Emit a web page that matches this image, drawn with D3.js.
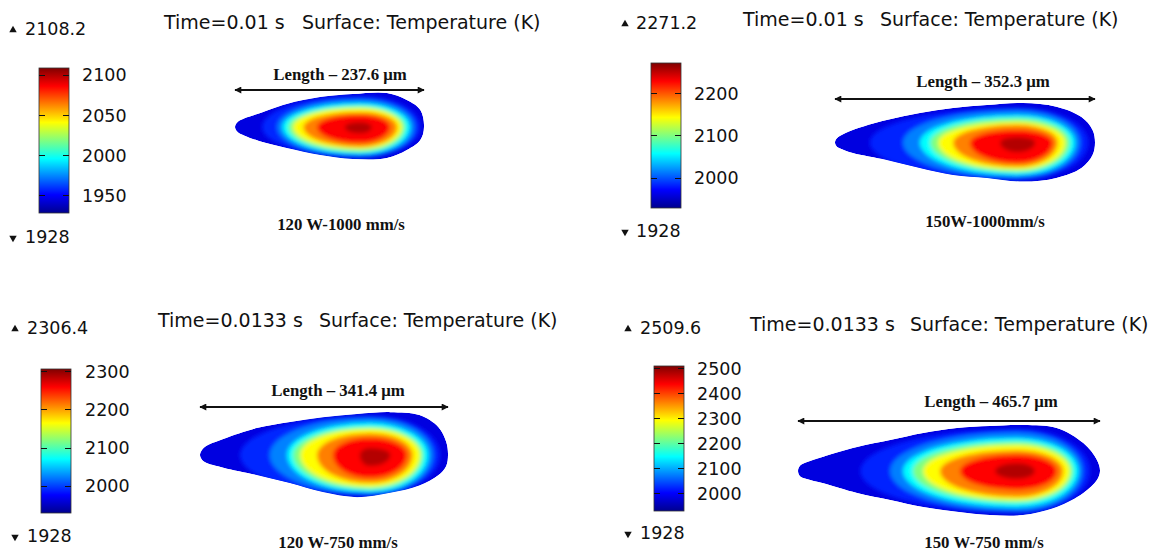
<!DOCTYPE html>
<html>
<head>
<meta charset="UTF-8">
<script src="https://cdn.jsdelivr.net/npm/d3@7"></script>
<style>
  body { margin: 0; background: #fff; }
  .lbl { font-family: 'DejaVu Sans', sans-serif; font-size: 17.5px; fill: #111; }
  .title { font-family: 'DejaVu Sans', sans-serif; font-size: 19px; fill: #111; }
  .serif { font-family: 'Liberation Serif', 'Times New Roman', serif; font-weight: bold; font-size: 16.8px; fill: #111; }
</style>
</head>
<body>
<svg id="chart" width="1154" height="552"></svg>
<script>
// ---- data ----
var tMin = 1928;
var tMax = [2108.2, 2271.2, 2306.4, 2509.6];
var times = ["0.01", "0.01", "0.0133", "0.0133"];
var lengths = [237.6, 352.3, 341.4, 465.7];           // melt pool length, µm
var captions = ["120 W-1000 mm/s", "150W-1000mm/s", "120 W-750 mm/s", "150 W-750 mm/s"];
var barTicks = [
  [1950, 2000, 2050, 2100],
  [2000, 2100, 2200],
  [2000, 2100, 2200, 2300],
  [2000, 2100, 2200, 2300, 2400, 2500]
];
var hotX = [157, 247, 234, 338];                        // x of the hottest point, µm from tail

// pool outline: [x from tail (µm), half width above axis, half width below axis]
var outline1 = [[3, 6, 6], [12, 11, 11], [30, 17, 17.5], [65, 29, 26.4], [107, 37.7, 35.2], [148, 41.5, 40.3],
  [191, 42.8, 39], [216, 34, 29], [233, 21.4, 16.4]];
var outline2 = [[2, 5, 5], [7, 9, 8], [24, 17, 14.2], [70, 30.5, 23.7], [115, 40, 34.5], [160, 46.7, 44],
  [206, 50.8, 48], [255, 53.5, 53], [300, 48.5, 48], [334, 34.5, 34.5], [349, 17, 17]];
var outline3 = [[2, 6, 5.5], [7, 11.5, 10], [32, 22, 17.5], [78, 37, 27.5], [124, 45.5, 38.6], [169, 52, 51],
  [216, 56.5, 58], [262, 59, 52], [302, 55, 42], [328, 38.6, 28], [339, 18, 15]];
var outline4 = [[3, 8, 8], [12, 13, 12], [39, 22, 19], [91, 37, 34], [142, 47.8, 44.7], [193, 58.6, 55.5],
  [245, 66.3, 63], [296, 69.4, 68], [347, 71, 68], [399, 66.3, 55.5], [440, 43, 34], [461, 17, 14]];

// isotherms: [T (K), rear x, front x, half width above, half width below] in µm
var iso1 = [[1957, 34, 233, 39, 38], [1973, 53, 226, 35, 38], [1996, 60, 220, 30, 34], [2018, 67, 214, 26, 31],
  [2041, 73, 210, 24, 28], [2063, 86, 204, 19, 25], [2086, 103, 195, 15, 20], [2099, 138, 172, 6, 8]];
var iso2 = [[1983, 47, 343, 47, 51], [2014, 92, 332, 44, 48], [2057, 115, 325, 37, 44], [2100, 129, 318, 33, 40],
  [2143, 140, 312, 28, 37], [2185, 160, 302, 24, 33], [2228, 183, 295, 17, 28], [2254, 224, 271, 7.5, 13]];
var iso3 = [[1989, 55, 330, 54, 56], [2023, 96, 321, 51, 54], [2070, 120, 314, 44, 51], [2117, 128, 307, 38.6, 47],
  [2165, 138, 303, 36, 44], [2212, 161, 293, 30, 38.6], [2259, 183, 285, 23.4, 31.7], [2287, 220, 262, 9.6, 15]];
var iso4 = [[2021, 96, 450, 65, 65], [2073, 142, 439, 60, 62], [2146, 162, 432, 51, 55.5], [2219, 177, 424, 45, 49],
  [2292, 193, 419, 40, 45], [2364, 219, 409, 32, 40], [2437, 250, 399, 25, 29], [2481, 304, 365, 12, 12]];

var outlines = [outline1, outline2, outline3, outline4];
var isotherms = [iso1, iso2, iso3, iso4];

// ---- layout (pixels) ----
var layout = [
  { x0: 235, x1: 424, ay: 127, cb: [39, 68, 30, 145], tickX: 82, triX: 13, valX: 25, maxY: 35, minY: 243,
    timeX: 164, surfX: 302, titleY: 29, lenX: 340, lenY: 80, arrowY: 90, capX: 341, capY: 230 },
  { x0: 835, x1: 1095, ay: 142.5, cb: [651, 63, 30, 145], tickX: 694, triX: 625, valX: 636, maxY: 29, minY: 237,
    timeX: 743, surfX: 880, titleY: 26, lenX: 983, lenY: 87, arrowY: 99, capX: 985, capY: 227 },
  { x0: 200, x1: 448, ay: 455, cb: [41, 369, 30, 144], tickX: 85, triX: 15, valX: 27, maxY: 334, minY: 542,
    timeX: 158, surfX: 319, titleY: 327, lenX: 338, lenY: 396, arrowY: 407, capX: 338, capY: 548 },
  { x0: 798, x1: 1100, ay: 471, cb: [654, 366, 30, 145], tickX: 697, triX: 628, valX: 640, maxY: 334, minY: 539,
    timeX: 750, surfX: 910, titleY: 331, lenX: 991, lenY: 407, arrowY: 421, capX: 984, capY: 548 }
];

var jetStops = [0, 0.125, 0.375, 0.625, 0.875, 1];
var jetColors = ["#00008f", "#0000ff", "#00ffff", "#ffff00", "#ff0000", "#800000"];
var jet = d3.scaleLinear().domain(jetStops).range(jetColors).clamp(true);

var svg = d3.select("#chart");
var defs = svg.append("defs");

// colour bar gradient
var grad = defs.append("linearGradient").attr("id", "jet")
  .attr("x1", 0).attr("y1", 1).attr("x2", 0).attr("y2", 0);
jetStops.forEach(function (s, i) {
  grad.append("stop").attr("offset", s).attr("stop-color", jetColors[i]);
});

defs.append("filter").attr("id", "soft")
  .attr("x", "-20%").attr("y", "-40%").attr("width", "140%").attr("height", "180%")
  .append("feGaussianBlur").attr("stdDeviation", 2.3);

defs.append("marker").attr("id", "head")
  .attr("viewBox", "0 0 10 10").attr("refX", 9).attr("refY", 5)
  .attr("markerWidth", 9).attr("markerHeight", 7).attr("markerUnits", "userSpaceOnUse")
  .attr("orient", "auto-start-reverse")
  .append("path").attr("d", "M0,0 L10,5 L0,10 z").attr("fill", "#111");

var tri = d3.symbol().type(d3.symbolTriangle).size(24);

layout.forEach(function (L, p) {
  var g = svg.append("g");
  var len = lengths[p];
  var k = (L.x1 - L.x0) / len;
  var x = d3.scaleLinear().domain([0, len]).range([L.x0, L.x1]);
  var y = d3.scaleLinear().domain([-100, 100]).range([L.ay - 100 * k, L.ay + 100 * k]);
  var norm = d3.scaleLinear().domain([tMin, tMax[p]]).range([0, 1]);

  // ---- colour bar ----
  var cb = L.cb;
  var cy = d3.scaleLinear().domain([tMin, tMax[p]]).range([cb[1] + cb[3], cb[1]]);
  g.append("rect").attr("x", cb[0]).attr("y", cb[1]).attr("width", cb[2]).attr("height", cb[3])
    .attr("fill", "url(#jet)").attr("stroke", "#333").attr("stroke-width", 0.8);
  g.selectAll(".tk").data(barTicks[p]).enter().append("path")
    .attr("d", function (d) {
      var yy = Math.round(cy(d)) + 0.5;
      return "M" + cb[0] + "," + yy + "h6M" + (cb[0] + cb[2] - 6) + "," + yy + "h6";
    })
    .attr("stroke", "#111").attr("stroke-width", 1.2);
  var ax = g.append("g").attr("transform", "translate(" + L.tickX + ",0)")
    .call(d3.axisRight(cy).tickValues(barTicks[p]).tickSize(0).tickPadding(0).tickFormat(d3.format("d")));
  ax.select(".domain").remove();
  ax.selectAll("text").attr("class", "lbl").attr("font-size", null).attr("font-family", null)
    .attr("fill", null).attr("dy", "0.36em");

  // max / min labels
  g.append("path").attr("d", tri).attr("transform", "translate(" + L.triX + "," + (L.maxY - 5) + ")").attr("fill", "#111");
  g.append("text").attr("class", "lbl").attr("x", L.valX).attr("y", L.maxY).text(d3.format(".1f")(tMax[p]));
  g.append("path").attr("d", tri).attr("transform", "translate(" + L.triX + "," + (L.minY - 5) + ") rotate(180)").attr("fill", "#111");
  g.append("text").attr("class", "lbl").attr("x", L.valX).attr("y", L.minY).text(tMin);

  // title
  g.append("text").attr("class", "title").attr("x", L.timeX).attr("y", L.titleY).text("Time=" + times[p] + " s");
  g.append("text").attr("class", "title").attr("x", L.surfX).attr("y", L.titleY).text("Surface: Temperature (K)");

  // ---- melt pool ----
  var pts = outlines[p];
  var ring = [[0, 0]]
    .concat(pts.map(function (d) { return [d[0], -d[1]]; }))
    .concat([[len, 0]])
    .concat(pts.slice().reverse().map(function (d) { return [d[0], d[2]]; }));
  var line = d3.line().x(function (d) { return x(d[0]); }).y(function (d) { return y(d[1]); })
    .curve(d3.curveCatmullRomClosed.alpha(0.5));
  var outlinePath = line(ring);

  defs.append("clipPath").attr("id", "pool" + p).append("path").attr("d", outlinePath);

  var pool = g.append("g").attr("clip-path", "url(#pool" + p + ")");
  pool.append("path").attr("d", outlinePath).attr("fill", jet(0.09));

  function egg(d) {
    var r = x(d[1]), f = x(d[2]), c = x(hotX[p]);
    var t = d[3] * k, b = d[4] * k, a = L.ay;
    return "M" + r + "," + a +
      "A" + (c - r) + "," + t + " 0 0 1 " + c + "," + (a - t) +
      "A" + (f - c) + "," + t + " 0 0 1 " + f + "," + a +
      "A" + (f - c) + "," + b + " 0 0 1 " + c + "," + (a + b) +
      "A" + (c - r) + "," + b + " 0 0 1 " + r + "," + a + "Z";
  }
  var field = pool.append("g").attr("filter", "url(#soft)");
  field.selectAll("path").data(isotherms[p]).enter().append("path")
    .attr("d", egg)
    .attr("fill", function (d) { return jet(norm(d[0])); });

  // length arrow + labels
  g.append("line").attr("x1", x(0)).attr("x2", x(len)).attr("y1", L.arrowY).attr("y2", L.arrowY)
    .attr("stroke", "#111").attr("stroke-width", 2)
    .attr("marker-start", "url(#head)").attr("marker-end", "url(#head)");
  g.append("text").attr("class", "serif").attr("x", L.lenX).attr("y", L.lenY).attr("text-anchor", "middle")
    .text("Length \u2013 " + len + " \u03bcm");
  g.append("text").attr("class", "serif").attr("x", L.capX).attr("y", L.capY).attr("text-anchor", "middle")
    .text(captions[p]);
});
</script>
</body>
</html>
